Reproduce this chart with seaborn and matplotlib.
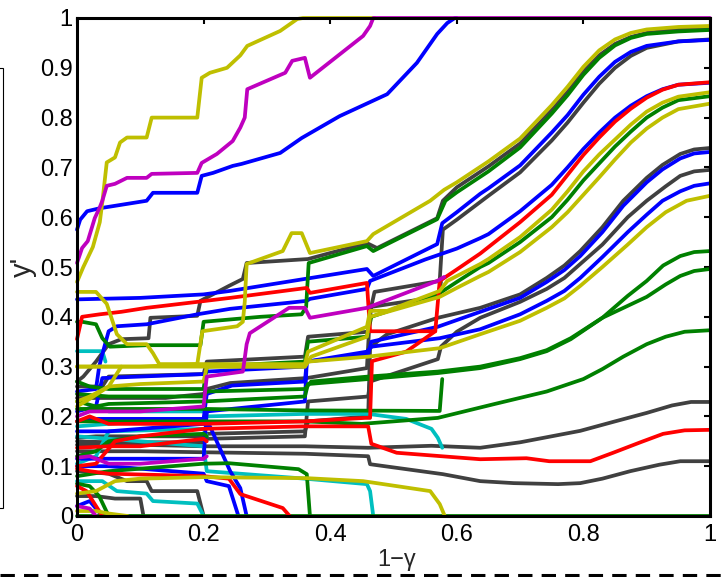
import pandas as pd
import matplotlib
matplotlib.use('Agg')
import matplotlib.pyplot as plt
import seaborn as sns
from matplotlib.patches import Rectangle
from matplotlib.lines import Line2D

# paths, (1-gamma, y') pairs, grouped by colour
gray_traces = [
    [(0, 0.27), (0.01, 0.28), (0.03, 0.31), (0.05, 0.345), (0.07, 0.355), (0.113, 0.357), (0.116, 0.398),
     (0.19, 0.402), (0.195, 0.432), (0.24, 0.462), (0.262, 0.476), (0.268, 0.508), (0.365, 0.516),
     (0.458, 0.548), (0.474, 0.538), (0.569, 0.598), (0.578, 0.633), (0.6, 0.66), (0.65, 0.702),
     (0.7, 0.748), (0.75, 0.815), (0.775, 0.852), (0.8, 0.892), (0.825, 0.925), (0.85, 0.948),
     (0.875, 0.962), (0.9, 0.97), (0.95, 0.977), (1.0, 0.98)],
    [(0, 0.237), (0.05, 0.237), (0.14, 0.237), (0.16, 0.24), (0.2, 0.245), (0.205, 0.255), (0.242, 0.267),
     (0.363, 0.277), (0.458, 0.297), (0.463, 0.41), (0.47, 0.45), (0.573, 0.472), (0.578, 0.575),
     (0.6, 0.595), (0.65, 0.643), (0.7, 0.69), (0.75, 0.754), (0.775, 0.79), (0.8, 0.83), (0.825, 0.868),
     (0.85, 0.9), (0.875, 0.924), (0.9, 0.94), (0.95, 0.953), (1.0, 0.957)],
    [(0, 0.157), (0.03, 0.16), (0.2, 0.16), (0.205, 0.165), (0.36, 0.17), (0.365, 0.19), (0.46, 0.2),
     (0.463, 0.337), (0.475, 0.351), (0.49, 0.365), (0.57, 0.398), (0.637, 0.418), (0.7, 0.445),
     (0.742, 0.478), (0.77, 0.503), (0.795, 0.532), (0.83, 0.58), (0.863, 0.633), (0.9, 0.679),
     (0.925, 0.705), (0.953, 0.727), (0.975, 0.736), (1.0, 0.739)],
    [(0, 0.15), (0.05, 0.148), (0.2, 0.148), (0.205, 0.155), (0.36, 0.16), (0.365, 0.23), (0.46, 0.24),
     (0.463, 0.27), (0.57, 0.315), (0.575, 0.34), (0.6, 0.37), (0.637, 0.398), (0.7, 0.43), (0.742, 0.456),
     (0.77, 0.478), (0.795, 0.506), (0.83, 0.545), (0.87, 0.6), (0.9, 0.633), (0.93, 0.662),
     (0.953, 0.683), (0.975, 0.692), (1.0, 0.695)],
    [(0, 0.143), (0.1, 0.143), (0.2, 0.14), (0.36, 0.14), (0.46, 0.137), (0.56, 0.141), (0.637, 0.137),
     (0.7, 0.148), (0.795, 0.171), (0.85, 0.19), (0.9, 0.207), (0.94, 0.222), (0.97, 0.229), (1.0, 0.229)],
    [(0, 0.13), (0.1, 0.13), (0.2, 0.128), (0.36, 0.125), (0.46, 0.12), (0.463, 0.104), (0.578, 0.084),
     (0.637, 0.07), (0.69, 0.066), (0.76, 0.064), (0.795, 0.066), (0.83, 0.075), (0.874, 0.09),
     (0.92, 0.103), (0.953, 0.11), (1.0, 0.11)],
    [(0, 0.09), (0.05, 0.085), (0.079, 0.07), (0.11, 0.07), (0.118, 0.05), (0.19, 0.05), (0.2, 0.0)],
    [(0, 0.04), (0.03, 0.04), (0.06, 0.035), (0.1, 0.035), (0.105, 0.0)],
    [(0, 0.26), (0.04, 0.26), (0.05, 0.28), (0.2, 0.285), (0.205, 0.31), (0.36, 0.32), (0.365, 0.36),
     (0.46, 0.37), (0.465, 0.42), (0.57, 0.44), (0.575, 0.47)],
]

cyan_traces = [
    [(0, 0.331), (0.04, 0.331), (0.045, 0.31)],
    [(0, 0.18), (0.05, 0.185), (0.1, 0.19), (0.2, 0.19), (0.205, 0.2), (0.36, 0.205), (0.46, 0.205),
     (0.52, 0.195), (0.56, 0.175), (0.57, 0.157), (0.577, 0.137)],
    [(0, 0.16), (0.05, 0.155), (0.1, 0.15), (0.2, 0.14), (0.205, 0.09), (0.36, 0.075), (0.458, 0.064),
     (0.463, 0.05), (0.468, 0.0)],
    [(0, 0.07), (0.04, 0.07), (0.063, 0.05), (0.11, 0.045), (0.12, 0.03), (0.19, 0.025), (0.2, 0.0)],
    [(0, 0.105), (0.03, 0.12), (0.05, 0.17), (0.2, 0.175), (0.205, 0.16)],
    [(0.05, 0.21), (0.2, 0.21), (0.205, 0.205)],
]

blue_traces = [
    [(0, 0.575), (0.005, 0.595), (0.016, 0.612), (0.036, 0.618), (0.11, 0.633), (0.12, 0.649), (0.19, 0.649),
     (0.197, 0.683), (0.215, 0.689), (0.246, 0.703), (0.26, 0.707), (0.321, 0.729), (0.355, 0.759),
     (0.415, 0.803), (0.49, 0.847), (0.537, 0.91), (0.569, 0.968), (0.585, 0.99), (0.597, 1.0), (0.6, 1.0)],
    [(0, 0.435), (0.1, 0.438), (0.2, 0.445), (0.242, 0.452), (0.458, 0.496), (0.468, 0.482), (0.569, 0.546),
     (0.577, 0.588), (0.6, 0.61), (0.637, 0.647), (0.65, 0.658), (0.7, 0.704), (0.75, 0.77), (0.775, 0.805),
     (0.8, 0.846), (0.825, 0.882), (0.85, 0.912), (0.875, 0.932), (0.9, 0.944), (0.95, 0.953), (1.0, 0.956)],
    [(0, 0.25), (0.03, 0.255), (0.035, 0.3), (0.04, 0.325), (0.05, 0.371), (0.063, 0.381), (0.11, 0.385),
     (0.19, 0.405), (0.242, 0.416), (0.363, 0.432), (0.368, 0.436), (0.458, 0.456), (0.463, 0.472),
     (0.55, 0.515), (0.6, 0.537), (0.637, 0.558), (0.65, 0.566), (0.7, 0.612), (0.75, 0.665),
     (0.775, 0.7), (0.8, 0.737), (0.825, 0.77), (0.85, 0.8), (0.875, 0.824), (0.9, 0.843), (0.925, 0.857),
     (0.95, 0.866), (1.0, 0.87)],
    [(0, 0.21), (0.03, 0.22), (0.04, 0.277), (0.2, 0.285), (0.205, 0.29), (0.36, 0.3), (0.363, 0.31),
     (0.46, 0.325), (0.465, 0.35), (0.57, 0.38), (0.637, 0.41), (0.7, 0.438), (0.742, 0.47), (0.77, 0.494),
     (0.795, 0.522), (0.83, 0.57), (0.863, 0.623), (0.9, 0.67), (0.925, 0.696), (0.953, 0.718),
     (0.975, 0.728), (1.0, 0.731)],
    [(0, 0.19), (0.02, 0.195), (0.2, 0.195), (0.205, 0.245), (0.245, 0.262), (0.36, 0.27), (0.363, 0.31),
     (0.458, 0.33), (0.465, 0.34), (0.573, 0.357), (0.637, 0.375), (0.7, 0.405), (0.742, 0.432),
     (0.77, 0.452), (0.795, 0.478), (0.83, 0.52), (0.87, 0.57), (0.9, 0.605), (0.925, 0.633),
     (0.953, 0.652), (0.975, 0.663), (1.0, 0.668)],
    [(0, 0.17), (0.05, 0.17), (0.2, 0.185), (0.21, 0.18), (0.242, 0.09), (0.258, 0.056), (0.268, 0.0)],
    [(0, 0.115), (0.2, 0.115), (0.205, 0.21), (0.36, 0.23), (0.363, 0.31)],
    [(0, 0.02), (0.02, 0.03), (0.03, 0.015), (0.04, 0.0)],
    [(0, 0.1), (0.05, 0.1), (0.1, 0.095), (0.2, 0.085), (0.205, 0.07), (0.24, 0.06), (0.255, 0.0)],
]

green_traces = [
    [(0, 0.0), (1.0, 0.0)],
    [(0, 0.39), (0.008, 0.39), (0.03, 0.385), (0.04, 0.357), (0.052, 0.34), (0.11, 0.343), (0.195, 0.343),
     (0.2, 0.39), (0.29, 0.4), (0.355, 0.405), (0.362, 0.42), (0.366, 0.508), (0.458, 0.542),
     (0.468, 0.532), (0.569, 0.596), (0.582, 0.633), (0.6, 0.65), (0.65, 0.692), (0.7, 0.74),
     (0.75, 0.808), (0.775, 0.845), (0.8, 0.886), (0.825, 0.92), (0.85, 0.945), (0.875, 0.96),
     (0.9, 0.968), (0.95, 0.973), (1.0, 0.976)],
    [(0, 0.27), (0.02, 0.26), (0.05, 0.255), (0.2, 0.255), (0.205, 0.3), (0.36, 0.31), (0.365, 0.35),
     (0.458, 0.36), (0.465, 0.4), (0.57, 0.445), (0.6, 0.47), (0.637, 0.5), (0.65, 0.508), (0.7, 0.55),
     (0.75, 0.6), (0.775, 0.635), (0.8, 0.674), (0.825, 0.708), (0.85, 0.742), (0.875, 0.772),
     (0.9, 0.8), (0.925, 0.82), (0.95, 0.835), (1.0, 0.843)],
    [(0, 0.23), (0.03, 0.22), (0.05, 0.225), (0.2, 0.23), (0.36, 0.24), (0.365, 0.265), (0.46, 0.275),
     (0.57, 0.287), (0.637, 0.297), (0.7, 0.315), (0.742, 0.331), (0.78, 0.355), (0.83, 0.398),
     (0.87, 0.442), (0.9, 0.472), (0.926, 0.503), (0.953, 0.522), (0.975, 0.53), (1.0, 0.532)],
    [(0, 0.245), (0.05, 0.24), (0.2, 0.24), (0.205, 0.25), (0.36, 0.255), (0.37, 0.27), (0.46, 0.28),
     (0.57, 0.29), (0.637, 0.3), (0.7, 0.317), (0.742, 0.333), (0.78, 0.357), (0.83, 0.398),
     (0.87, 0.422), (0.9, 0.44), (0.93, 0.465), (0.953, 0.482), (0.975, 0.492), (1.0, 0.496)],
    [(0, 0.19), (0.04, 0.19), (0.2, 0.19), (0.36, 0.19), (0.45, 0.185), (0.57, 0.197), (0.66, 0.225),
     (0.742, 0.25), (0.8, 0.275), (0.83, 0.295), (0.863, 0.32), (0.9, 0.345), (0.93, 0.36), (0.96, 0.37),
     (1.0, 0.373)],
    [(0, 0.215), (0.2, 0.215), (0.36, 0.212), (0.573, 0.211), (0.577, 0.275)],
    [(0, 0.08), (0.05, 0.09), (0.1, 0.095), (0.2, 0.105), (0.24, 0.106), (0.35, 0.094), (0.363, 0.084),
     (0.368, 0.0)],
    [(0, 0.065), (0.02, 0.06), (0.035, 0.04), (0.05, 0.0)],
    [(0, 0.12), (0.03, 0.13), (0.05, 0.15), (0.1, 0.16), (0.2, 0.165), (0.205, 0.16)],
]

red_traces = [
    [(0, 0.355), (0.008, 0.4), (0.036, 0.405), (0.07, 0.41), (0.11, 0.418), (0.19, 0.43), (0.242, 0.438),
     (0.363, 0.458), (0.368, 0.448), (0.458, 0.468), (0.463, 0.371), (0.566, 0.371), (0.573, 0.472),
     (0.6, 0.495), (0.637, 0.527), (0.65, 0.54), (0.7, 0.59), (0.75, 0.645), (0.775, 0.685), (0.8, 0.725),
     (0.825, 0.76), (0.85, 0.792), (0.875, 0.818), (0.9, 0.84), (0.925, 0.856), (0.95, 0.866), (1.0, 0.871)],
    [(0, 0.19), (0.02, 0.2), (0.05, 0.185), (0.2, 0.185), (0.36, 0.19), (0.455, 0.197), (0.463, 0.197),
     (0.466, 0.311), (0.52, 0.33), (0.566, 0.371)],
    [(0, 0.1), (0.03, 0.105), (0.06, 0.15), (0.1, 0.16), (0.2, 0.175), (0.36, 0.18), (0.46, 0.18),
     (0.465, 0.145), (0.505, 0.127), (0.637, 0.114), (0.71, 0.116), (0.746, 0.11), (0.811, 0.11),
     (0.847, 0.127), (0.89, 0.148), (0.926, 0.165), (0.96, 0.172), (1.0, 0.173)],
    [(0, 0.095), (0.02, 0.09), (0.05, 0.085), (0.2, 0.08), (0.24, 0.075), (0.258, 0.044), (0.325, 0.016),
     (0.336, 0.0)],
    [(0, 0.137), (0.05, 0.14), (0.1, 0.14), (0.2, 0.155), (0.205, 0.15)],
    [(0, 0.06), (0.015, 0.05), (0.03, 0.02), (0.04, 0.0)],
]

yellow_traces = [
    [(0, 0.47), (0.01, 0.5), (0.025, 0.54), (0.036, 0.59), (0.04, 0.63), (0.047, 0.71), (0.06, 0.72),
     (0.068, 0.75), (0.079, 0.76), (0.11, 0.76), (0.118, 0.8), (0.19, 0.8), (0.197, 0.88), (0.21, 0.89),
     (0.237, 0.9), (0.258, 0.925), (0.269, 0.944), (0.321, 0.974), (0.348, 0.998), (0.357, 1.0), (0.47, 1.0)],
    [(0, 0.3), (0.1, 0.3), (0.19, 0.305), (0.198, 0.371), (0.253, 0.381), (0.262, 0.39), (0.265, 0.43),
     (0.268, 0.506), (0.325, 0.532), (0.339, 0.568), (0.355, 0.568), (0.368, 0.528), (0.458, 0.552),
     (0.468, 0.566), (0.558, 0.633), (0.58, 0.655), (0.6, 0.67), (0.65, 0.712), (0.7, 0.758),
     (0.75, 0.825), (0.775, 0.862), (0.8, 0.902), (0.825, 0.935), (0.85, 0.957), (0.875, 0.97),
     (0.9, 0.977), (0.95, 0.982), (1.0, 0.984)],
    [(0, 0.45), (0.03, 0.45), (0.047, 0.426), (0.063, 0.365), (0.079, 0.345), (0.11, 0.345), (0.12, 0.327),
     (0.13, 0.305), (0.36, 0.305), (0.365, 0.33), (0.458, 0.38), (0.463, 0.412), (0.49, 0.412),
     (0.573, 0.452), (0.585, 0.472), (0.637, 0.506), (0.65, 0.516), (0.7, 0.56), (0.75, 0.615),
     (0.775, 0.652), (0.8, 0.692), (0.825, 0.726), (0.85, 0.756), (0.875, 0.786), (0.9, 0.812),
     (0.925, 0.83), (0.95, 0.842), (1.0, 0.851)],
    [(0, 0.3), (0.05, 0.3), (0.36, 0.3), (0.37, 0.32), (0.458, 0.36), (0.463, 0.4), (0.573, 0.44),
     (0.6, 0.458), (0.637, 0.482), (0.65, 0.49), (0.7, 0.53), (0.75, 0.58), (0.775, 0.61), (0.8, 0.645),
     (0.825, 0.68), (0.85, 0.716), (0.875, 0.75), (0.9, 0.778), (0.925, 0.8), (0.95, 0.817), (1.0, 0.828)],
    [(0, 0.23), (0.02, 0.24), (0.05, 0.26), (0.1, 0.265), (0.2, 0.27), (0.205, 0.3), (0.36, 0.3),
     (0.365, 0.31), (0.46, 0.32), (0.573, 0.337), (0.637, 0.365), (0.7, 0.392), (0.742, 0.418),
     (0.77, 0.437), (0.795, 0.462), (0.83, 0.5), (0.87, 0.545), (0.9, 0.58), (0.93, 0.61), (0.963, 0.633),
     (1.0, 0.643)],
    [(0, 0.045), (0.03, 0.05), (0.06, 0.07), (0.1, 0.075), (0.2, 0.078), (0.363, 0.076), (0.452, 0.07),
     (0.558, 0.05), (0.573, 0.024), (0.581, 0.0)],
    [(0, 0.22), (0.02, 0.235), (0.05, 0.26), (0.07, 0.3)],
    [(0, 0.01), (0.03, 0.01), (0.05, 0.005), (0.08, 0.0)],
]

magenta_traces = [
    [(0, 0.508), (0.008, 0.538), (0.017, 0.552), (0.028, 0.598), (0.036, 0.62), (0.04, 0.633),
     (0.047, 0.663), (0.06, 0.667), (0.079, 0.679), (0.11, 0.679), (0.118, 0.687), (0.19, 0.689),
     (0.197, 0.709), (0.221, 0.727), (0.246, 0.753), (0.258, 0.78), (0.265, 0.8), (0.269, 0.857),
     (0.329, 0.89), (0.34, 0.914), (0.36, 0.92), (0.368, 0.88), (0.452, 0.964), (0.463, 0.984),
     (0.468, 1.0), (1.0, 1.0)],
    [(0, 0.2), (0.02, 0.21), (0.1, 0.21), (0.2, 0.22), (0.205, 0.28), (0.262, 0.29), (0.265, 0.317),
     (0.268, 0.345), (0.273, 0.367), (0.335, 0.418), (0.36, 0.418), (0.368, 0.398), (0.458, 0.418),
     (0.569, 0.472), (0.58, 0.48)],
    [(0, 0.117), (0.02, 0.12), (0.05, 0.105), (0.1, 0.105), (0.15, 0.11), (0.2, 0.115), (0.205, 0.12)],
    [(0, 0.02), (0.02, 0.015), (0.03, 0.0)],
]

x_ticks = [0, 0.2, 0.4, 0.6, 0.8, 1]
x_tick_labels = ['0', '0.2', '0.4', '0.6', '0.8', '1']
y_ticks = [0, 0.1, 0.2, 0.3, 0.4, 0.5, 0.6, 0.7, 0.8, 0.9, 1]
y_tick_labels = ['0', '0.1', '0.2', '0.3', '0.4', '0.5', '0.6', '0.7', '0.8', '0.9', '1']

# matlab style colours, drawn in this order
groups = [
    ('k', (0.25, 0.25, 0.25), gray_traces),
    ('c', (0.0, 0.75, 0.75), cyan_traces),
    ('b', (0.0, 0.0, 1.0), blue_traces),
    ('g', (0.0, 0.5, 0.0), green_traces),
    ('r', (1.0, 0.0, 0.0), red_traces),
    ('y', (0.75, 0.75, 0.0), yellow_traces),
    ('m', (0.75, 0.0, 0.75), magenta_traces),
]

rows = []
palette = {}
order = []
for key, col, traces in groups:
    for i, tr in enumerate(traces):
        name = f'{key}{i}'
        palette[name] = col
        order.append(name)
        for x, y in tr:
            rows.append((name, x, y))
df = pd.DataFrame(rows, columns=['trace', 'x', 'y'])

sns.set_style('white')
plt.rcParams['font.family'] = ['Liberation Sans', 'DejaVu Sans']

fig = plt.figure(figsize=(7.21, 5.77), dpi=100)
ax = fig.add_axes([77 / 721, 61 / 577, 633 / 721, 498 / 577])

sns.lineplot(data=df, x='x', y='y', hue='trace', hue_order=order, palette=palette,
             estimator=None, sort=False, legend=False, linewidth=2.7, ax=ax)
for ln in ax.lines:
    ln.set_clip_on(False)
    ln.set_solid_joinstyle('round')

ax.set_xlim(0, 1)
ax.set_ylim(0, 1)
ax.set_xticks(x_ticks)
ax.set_xticklabels(x_tick_labels)
ax.set_yticks(y_ticks)
ax.set_yticklabels(y_tick_labels)
ax.tick_params(direction='in', length=4.5, width=1.5, labelsize=17, top=True, right=True,
               colors='black')
ax.tick_params(axis='x', pad=6)
ax.tick_params(axis='y', pad=3)
for sp in ax.spines.values():
    sp.set_visible(True)
    sp.set_color('black')
    sp.set_linewidth(2.2)

ax.set_xlabel('1\u2212\u03b3', fontsize=17)
ax.xaxis.set_label_coords(0.505, -0.066)
ax.set_ylabel("y'", fontsize=21)
ax.yaxis.set_label_coords(-0.064, 0.5)

# bits of the neighbouring panel that show in the crop
fig.add_artist(Rectangle((-0.02, 1 - 508 / 577), 0.02 + 3 / 721, (508 - 68) / 577,
                         transform=fig.transFigure, fill=False, edgecolor='black', linewidth=0.8))
fig.add_artist(Line2D([0, 1], [1 - 575 / 577, 1 - 575 / 577], transform=fig.transFigure,
                      color='black', linewidth=2.2, dashes=(4.7, 3)))

fig.savefig('out.png', dpi=100)
